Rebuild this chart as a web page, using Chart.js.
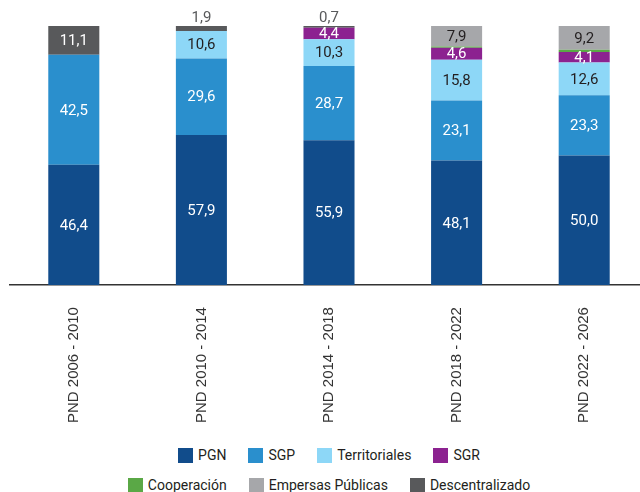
<!DOCTYPE html>
<html>
<head>
<meta charset="utf-8">
<title>Fuentes de financiación PND</title>
<script src="https://cdn.jsdelivr.net/npm/chart.js@4.4.1/dist/chart.umd.min.js"></script>
<style>
    html, body { margin: 0; padding: 0; background: #fff; overflow: hidden; }
    #wrap { position: relative; width: 648px; height: 440px; }
    #legend { margin-left: 10px; width: 638px; font-family: Roboto, sans-serif; font-size: 14px; color: #231f20; }
    #legend .row { display: flex; justify-content: center; align-items: center; height: 30px; }
    #legend .item { display: flex; align-items: center; margin: 0 11px; white-space: nowrap; }
    #legend .box { width: 15px; height: 15px; margin-right: 5px; }
</style>
</head>
<body>
<div id="wrap"><canvas id="pnd-chart" width="648" height="440"></canvas></div>
<div id="legend"></div>
<script>
// Composición de la financiación por PND (%)
const periods = ['PND 2006 - 2010', 'PND 2010 - 2014', 'PND 2014 - 2018', 'PND 2018 - 2022', 'PND 2022 - 2026'];
const pgn = [46.4, 57.9, 55.9, 48.1, 50.0];
const sgp = [42.5, 29.6, 28.7, 23.1, 23.3];
const territoriales = [0, 10.6, 10.3, 15.8, 12.6];
const sgr = [0, 0, 4.4, 4.6, 4.1];
const cooperacion = [0, 0, 0, 0.5, 0.8];
const empresas = [0, 0, 0, 7.9, 9.2];
const descentralizado = [11.1, 1.9, 0.7, 0, 0];

const legendBreakAfter = 4; // first legend row holds 4 items

function fmt(v) {
    return v.toFixed(1).replace('.', ',');
}

/**
 * Value labels inside segments (small top values go above the bar)
 */
const valueLabels = {
    id: 'valueLabels',
    afterDatasetsDraw(chart) {
        const ctx = chart.ctx;
        const sets = chart.data.datasets;
        ctx.save();
        ctx.font = '15px Roboto, sans-serif';
        ctx.textAlign = 'center';
        sets.forEach((ds, i) => {
            const meta = chart.getDatasetMeta(i);
            meta.data.forEach((bar, j) => {
                const v = ds.data[j];
                if (!v) return;
                let isTop = true;
                for (let k = i + 1; k < sets.length; k++) {
                    if (sets[k].data[j] > 0) isTop = false;
                }
                if (v < 3) {
                    if (!isTop) return;
                    ctx.fillStyle = '#58595b';
                    ctx.textBaseline = 'bottom';
                    ctx.fillText(fmt(v), bar.x, bar.y);
                } else {
                    ctx.fillStyle = ds.labelColor;
                    ctx.textBaseline = 'middle';
                    ctx.fillText(fmt(v), bar.x, (bar.y + bar.base) / 2 + 1);
                }
            });
        });
        ctx.restore();
    }
};

/**
 * HTML legend in two centred rows
 */
const htmlLegend = {
    id: 'htmlLegend',
    afterUpdate(chart) {
        const box = document.getElementById('legend');
        box.innerHTML = '';
        let row = null;
        chart.data.datasets.forEach((ds, i) => {
            if (i === 0 || i === legendBreakAfter) {
                row = document.createElement('div');
                row.className = 'row';
                box.appendChild(row);
            }
            const item = document.createElement('div');
            item.className = 'item';
            item.innerHTML = `<span class="box" style="background:${ds.backgroundColor}"></span><span>${ds.label}</span>`;
            row.appendChild(item);
        });
    }
};

new Chart(document.getElementById('pnd-chart'), {
    type: 'bar',
    data: {
        labels: periods,
        datasets: [
            { label: 'PGN', data: pgn, backgroundColor: '#114c8b', labelColor: '#ffffff' },
            { label: 'SGP', data: sgp, backgroundColor: '#2a8fcd', labelColor: '#ffffff' },
            { label: 'Territoriales', data: territoriales, backgroundColor: '#8dd7f7', labelColor: '#231f20' },
            { label: 'SGR', data: sgr, backgroundColor: '#8c2290', labelColor: '#ffffff' },
            { label: 'Cooperación', data: cooperacion, backgroundColor: '#5aa846', labelColor: '#ffffff' },
            { label: 'Empersas Públicas', data: empresas, backgroundColor: '#a6a7aa', labelColor: '#231f20' },
            { label: 'Descentralizado', data: descentralizado, backgroundColor: '#58595b', labelColor: '#ffffff' }
        ]
    },
    options: {
        responsive: false,
        animation: false,
        barPercentage: 0.4,
        categoryPercentage: 1.0,
        layout: { padding: { top: 26, left: 10, right: 0, bottom: 3 } },
        scales: {
            x: {
                stacked: true,
                grid: { display: false },
                border: { display: true, color: '#333333', width: 1.5 },
                ticks: {
                    minRotation: 90,
                    maxRotation: 90,
                    padding: 14,
                    color: '#333333',
                    font: { family: '"Liberation Sans", Arial, sans-serif', size: 15 }
                }
            },
            y: {
                stacked: true,
                display: false,
                min: 0,
                max: 100
            }
        },
        plugins: {
            legend: { display: false },
            tooltip: { enabled: false }
        }
    },
    plugins: [valueLabels, htmlLegend]
});
</script>
</body>
</html>
